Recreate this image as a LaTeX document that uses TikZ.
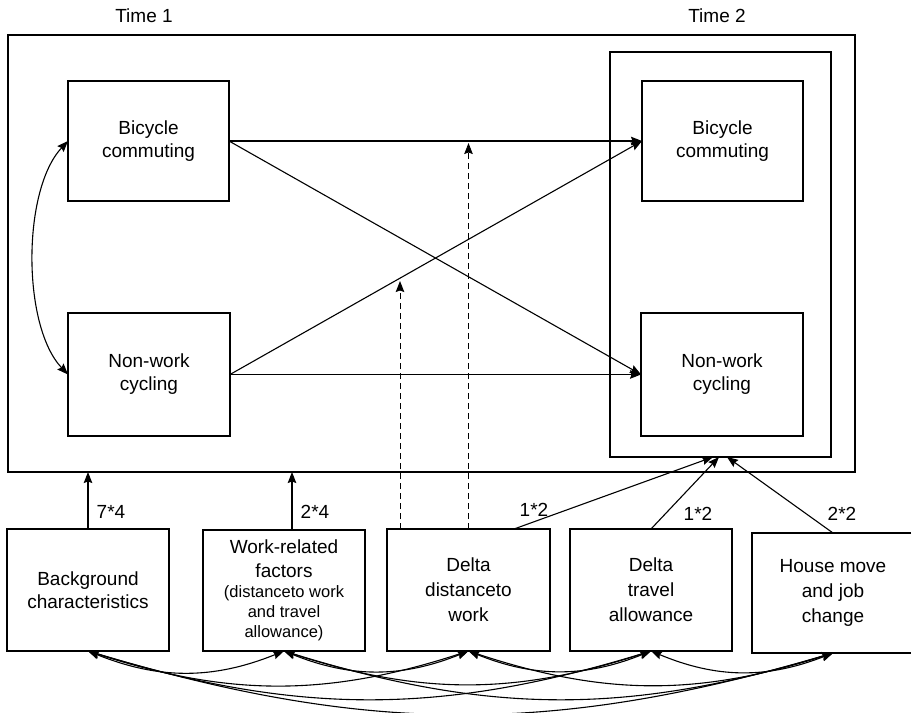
\documentclass[tikz,border=0pt]{standalone}
\usepackage{fontspec}
\setmainfont{Liberation Sans}
\usetikzlibrary{arrows.meta,calc}
\begin{document}
\begin{tikzpicture}[x=1pt,y=-1pt,
  every node/.style={font=\fontsize{19}{24}\selectfont, inner sep=0pt, outer sep=0pt},
  box/.style={draw, line width=1.1pt, align=center},
  arr/.style={line width=1.1pt, -{Stealth[length=11pt,width=8.5pt,inset=1.5pt]}},
  dbl/.style={line width=1.1pt, {Stealth[length=11pt,width=8.5pt,inset=1.5pt]}-{Stealth[length=11pt,width=8.5pt,inset=1.5pt]}},
  dsh/.style={arr, line width=1pt, dash pattern=on 6pt off 4pt},
  lab/.style={font=\fontsize{19}{24}\selectfont}]
\useasboundingbox (0,0) rectangle (912,712);

% titles
\node[lab] (time1) at (144,16) {Time 1};
\node[lab] (time2) at (717,16) {Time 2};

% frames
\node[box, minimum width=847, minimum height=437] (t1box) at (431.5,253.5) {};
\node[box, minimum width=221, minimum height=405] (t2box) at (720.5,254.5) {};

% upper boxes
\node[box, minimum width=161, minimum height=120, font=\fontsize{19}{23}\selectfont] (bc1) at (148.5,141) {Bicycle\\commuting};
\node[box, minimum width=161, minimum height=120, font=\fontsize{19}{23}\selectfont] (bc2) at (722.5,141) {Bicycle\\commuting};
\node[box, minimum width=162, minimum height=123, font=\fontsize{19}{23}\selectfont] (nw1) at (149,374.5) {Non-work\\cycling};
\node[box, minimum width=162, minimum height=123, font=\fontsize{19}{23}\selectfont] (nw2) at (722,374.5) {Non-work\\cycling};

% lower boxes
\node[box, minimum width=162, minimum height=122, font=\fontsize{19}{23}\selectfont] (bg) at (88,590) {Background\\characteristics};
\node[box, minimum width=162, minimum height=121] (wr) at (284,590.5) {Work-related\\factors\\[-4pt]{\fontsize{16.5}{20}\selectfont (distanceto work}\\[-4pt]{\fontsize{16.5}{20}\selectfont and travel}\\[-4pt]{\fontsize{16.5}{20}\selectfont allowance)}};
\node[box, minimum width=163, minimum height=122, font=\fontsize{19}{25}\selectfont] (dd) at (468.5,590) {Delta\\distanceto\\work};
\node[box, minimum width=162, minimum height=122, font=\fontsize{19}{25}\selectfont] (dt) at (651,590) {Delta\\travel\\allowance};
\node[align=center, minimum width=162, minimum height=120, font=\fontsize{19}{25}\selectfont] (hm) at (833,593) {House move\\and job\\change};
\coordinate (hmr1) at (911,533);
\coordinate (hmr2) at (911,653);
\draw[line width=1.1pt] (hmr1) -- (hm.north west) -- (hm.south west) -- (hmr2);

% cross-lagged paths
\draw[arr] (bc1.east) -- (bc2.west);
\draw[arr] (nw1.east) -- (nw2.west);
\draw[arr] (bc1.east) -- (nw2.west);
\draw[arr] (nw1.east) -- (bc2.west);

% correlation at time 1
\draw[dbl] (bc1.west) .. controls (22,190) and (22,326) .. (nw1.west);

% moderation (dashed)
\coordinate (d1t) at (400,281);
\coordinate (d2t) at (468.5,143);
\draw[dsh] (dd.north -| d1t) -- (d1t);
\draw[dsh] (dd.north) -- (d2t);

% covariate paths
\draw[arr] (bg.north) -- (bg.north |- t1box.south);
\coordinate (wrs) at (292,529);
\draw[arr] (wrs) -- (wrs |- t1box.south);
\coordinate (tA) at (713,457);
\coordinate (tB) at (719,457);
\coordinate (tC) at (727,457);
\coordinate (dds) at (514,529);
\draw[arr] (dds) -- (tA);
\draw[arr] (dt.north) -- (tB);
\draw[arr] (hm.north) -- (tC);

% path labels
\node[lab] (l1) at (111,512) {7*4};
\node[lab] (l2) at (315,512) {2*4};
\node[lab] (l3) at (534,510) {1*2};
\node[lab] (l4) at (698,514) {1*2};
\node[lab] (l5) at (842,514) {2*2};

% correlations among exogenous variables
\draw[dbl] (bg.south) to[bend right=22] (wr.south);
\draw[dbl] (wr.south) to[bend right=22] (dd.south);
\draw[dbl] (dd.south) to[bend right=22] (dt.south);
\draw[dbl] (dt.south) to[bend right=22] (hm.south);
\draw[dbl] (bg.south) to[bend right=18] (dd.south);
\draw[dbl] (wr.south) to[bend right=18] (dt.south);
\draw[dbl] (dd.south) to[bend right=18] (hm.south);
\draw[dbl] (bg.south) to[bend right=17] (dt.south);
\draw[dbl] (wr.south) to[bend right=17] (hm.south);
\draw[dbl] (bg.south) to[bend right=16.5] (hm.south);
\end{tikzpicture}
\end{document}
